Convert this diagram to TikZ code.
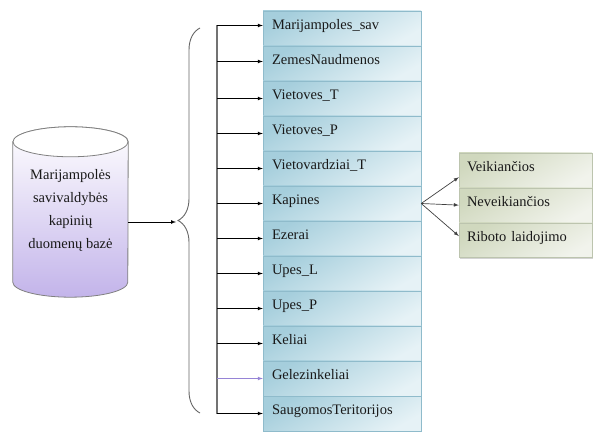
\documentclass[tikz,border=0pt]{standalone}
\usepackage{fontspec}
\setmainfont{Liberation Serif}
\usetikzlibrary{positioning,shadows,decorations.pathreplacing}
\definecolor{tblue}{HTML}{A5CEDC}
\definecolor{tlight}{HTML}{E6F2F6}
\definecolor{tedge}{HTML}{8FBBCB}
\definecolor{ggreen}{HTML}{D0D8BE}
\definecolor{glight}{HTML}{F1F3EC}
\definecolor{gedge}{HTML}{BCC4AE}
\definecolor{dbpurple}{HTML}{C3B4EA}
\definecolor{railpurple}{HTML}{9684D6}
\tikzset{
	tablebox/.style={rectangle,draw=tedge,top color=tblue,bottom color=tlight,shading angle=30,minimum width=158pt,minimum height=35pt,text width=140pt,inner xsep=9pt,align=left,text height=10pt,text depth=8pt,font=\rmfamily\fontsize{14.5}{17}\selectfont,text=black!90},
	kindbox/.style={rectangle,draw=gedge,top color=ggreen,bottom color=glight,shading angle=30,minimum width=133pt,minimum height=34.5pt,text width=117pt,inner xsep=8pt,align=left,text height=10pt,text depth=8pt,font=\rmfamily\fontsize{14.5}{17}\selectfont,text=black!90,drop shadow={shadow xshift=1pt,shadow yshift=-2pt,opacity=0.35}},
	dbstyle/.style={minimum width=115pt,minimum height=170pt,inner sep=0pt,align=center,font=\rmfamily\fontsize{14.5}{23}\selectfont,text=black!90},
	dbline/.style={draw=black!50,line width=0.8pt},
	feed/.style={-latex,line width=0.7pt},
}
\begin{document}
\begin{tikzpicture}[x=1pt,y=1pt]
	\useasboundingbox (0,0) rectangle (593,433);
	% database
	\node[dbstyle] (db) at (70.5,221) {};
	\shade[dbline,top color=white,bottom color=dbpurple] ([yshift=-15pt]db.north west) -- ([yshift=15pt]db.south west)
		arc[start angle=180,end angle=360,x radius=57.5,y radius=15] -- ([yshift=-15pt]db.north east)
		arc[start angle=0,end angle=180,x radius=57.5,y radius=15] -- cycle;
	\filldraw[dbline,fill=white] ([yshift=-15pt]db.north) ellipse[x radius=57.5,y radius=15];
	\node[dbstyle] (dblabel) at ([yshift=2pt]db.center) {Marijampolės\\savivaldybės\\kapinių\\duomenų bazė};
	% tables
	\foreach \name/\txt [count=\i from 0] in {msav/Marijampoles\_sav,zemes/ZemesNaudmenos,vt/Vietoves\_T,vp/Vietoves\_P,vvt/Vietovardziai\_T,kap/Kapines,ezer/Ezerai,upl/Upes\_L,upp/Upes\_P,kel/Keliai,gel/Gelezinkeliai,saug/SaugomosTeritorijos}
		\node[tablebox] (\name) at (342,404.5-35*\i) {\txt};
	% brace and spine
	\coordinate (btip) at (176,211);
	\coordinate (spine) at (217,0);
	\draw[feed] (db.east |- btip) -- (btip);
	\draw[black!60,line width=0.9pt,decorate,decoration={brace,amplitude=22pt}] (200,20) -- (200,405);
	\draw[black!55,line width=1.3pt] ([yshift=3pt]spine |- msav.west) -- (spine |- saug.west);
	\foreach \name/\dy in {msav/3,zemes/2,vt/0,vp/0,vvt/0,kap/0,ezer/0,upl/0,upp/0,kel/0,saug/0}
		\draw[feed] ([yshift=\dy pt]spine |- \name.west) -- ([yshift=\dy pt]\name.west);
	\draw[feed,railpurple] (spine |- gel.west) -- (gel.west);
	% kinds of cemeteries
	\node[kindbox] (veik) at (525.5,262.75) {Veikiančios};
	\node[kindbox,below=0pt of veik] (nev) {Neveikiančios};
	\node[kindbox,below=0pt of nev] (rib) {Riboto laidojimo};
	\draw[feed,black!75] (kap.east) -- ([yshift=-7pt]veik.west);
	\draw[feed,black!75] (kap.east) -- (nev.west);
	\draw[feed,black!75] (kap.east) -- ([yshift=4pt]rib.west);
\end{tikzpicture}
\end{document}
